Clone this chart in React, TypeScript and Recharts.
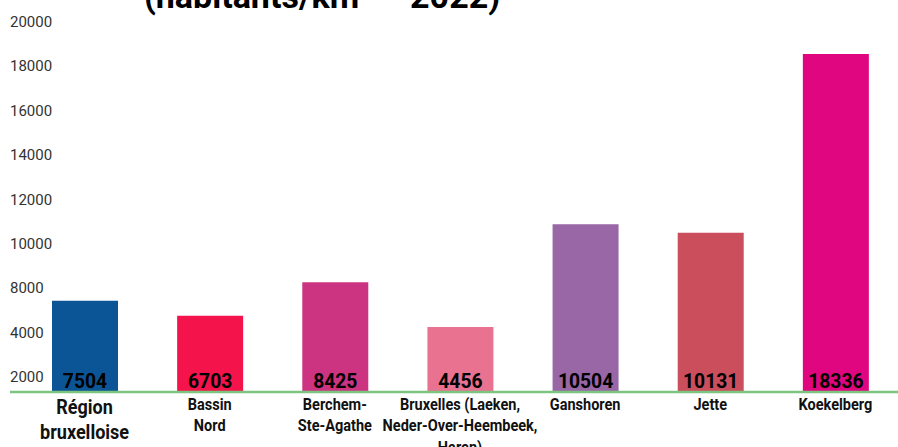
import { BarChart, Bar, XAxis, YAxis, Cell, LabelList } from 'recharts'

// communes (line breaks = how the labels wrap)
const communes = [
  'Région\nbruxelloise',
  'Bassin\nNord',
  'Berchem-\nSte-Agathe',
  'Bruxelles (Laeken,\nNeder-Over-Heembeek,\nHaren)',
  'Ganshoren',
  'Jette',
  'Koekelberg',
]

// printed density values (habitants/km²)
const densities = [7504, 6703, 8425, 4456, 10504, 10131, 18336]

// bar heights as drawn
const barValues = [7446, 6770, 8275, 6261, 10887, 10509, 18559]

const barColors = ['#0b5596', '#f5134b', '#cc3481', '#e87290', '#9966a6', '#cb4e5d', '#e0067f']

const yTicks = [4000, 6000, 8000, 10000, 12000, 14000, 16000, 18000, 20000]
const yTickLabels = ['2000', '4000', '8000', '10000', '12000', '14000', '16000', '18000', '20000']

const data = communes.map((name, i) => ({
  name,
  value: barValues[i],
  density: densities[i],
}))

const FONT = 'Roboto, "Noto Sans", sans-serif'

function YTick(props: any) {
  const { y, payload } = props
  const i = yTicks.indexOf(payload.value)
  return (
    <text x={10} y={y + 5} fill="#333" fontSize={15} fontFamily={FONT} textAnchor="start">
      {yTickLabels[i]}
    </text>
  )
}

function XTick(props: any) {
  const { x, y, payload, index } = props
  const lines = String(payload.value).split('\n')
  const big = index === 0
  const fontSize = big ? 20.5 : 16.5
  const lineH = big ? 25 : 21.5
  const first = big ? 22 : 18
  return (
    <g transform={`translate(${x},${y}) scale(0.88,1)`}>
      {lines.map((l, i) => (
        <text
          key={i}
          x={0}
          y={first + i * lineH}
          textAnchor="middle"
          fill="#111"
          fontSize={fontSize}
          fontWeight={700}
          fontFamily={FONT}
        >
          {l}
        </text>
      ))}
    </g>
  )
}

function BarLabel(props: any) {
  const { x, y, width, height, value } = props
  const cx = x + width / 2
  const bottom = y + height
  return (
    <g transform={`translate(${cx},${bottom - 4}) scale(0.92,1)`}>
      <text x={0} y={0} textAnchor="middle" fill="#000" fontSize={21} fontWeight={700} fontFamily={FONT}>
        {value}
      </text>
    </g>
  )
}

export default function App() {
  return (
    <div style={{ position: 'absolute', top: 0, left: 0, width: 898, height: 447, overflow: 'hidden', background: '#fff' }}>
      <svg width={898} height={40} style={{ position: 'absolute', top: 0, left: 0 }}>
        <text x={322} y={8} textAnchor="middle" fontSize={34} fontWeight={700} fontFamily={FONT} fill="#000">
          (habitants/km² – 2022)
        </text>
      </svg>
      <BarChart
        width={898}
        height={447}
        data={data}
        margin={{ top: 22, right: 0, left: 0, bottom: 0 }}
      >
        <XAxis
          dataKey="name"
          height={55}
          interval={0}
          tickLine={false}
          tickSize={0}
          tickMargin={0}
          padding={{ left: 12, right: 0 }}
          axisLine={{ stroke: '#7cc47f', strokeWidth: 2.5 }}
          tick={<XTick />}
        />
        <YAxis
          width={10}
          domain={[3333, 20000]}
          allowDataOverflow
          ticks={yTicks}
          interval={0}
          axisLine={false}
          tickLine={false}
          tick={<YTick />}
        />
        <Bar dataKey="value" barSize={66} isAnimationActive={false}>
          {data.map((d, i) => (
            <Cell key={d.name} fill={barColors[i]} />
          ))}
          <LabelList dataKey="density" content={<BarLabel />} />
        </Bar>
      </BarChart>
    </div>
  )
}
